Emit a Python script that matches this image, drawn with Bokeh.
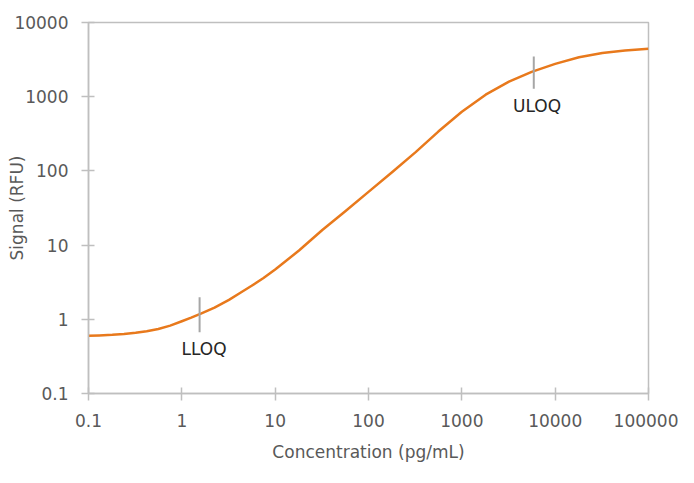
from bokeh.plotting import figure
from bokeh.models import ColumnDataSource, FixedTicker, CustomJSTickFormatter
from bokeh.core.properties import value
from bokeh.embed import file_html
from bokeh.resources import INLINE

# standard curve
conc = [0.1, 0.13, 0.18, 0.24, 0.32, 0.42, 0.56, 0.75, 1, 1.26, 1.6, 2.24, 3.2,
        4.2, 5.6, 7.5, 10, 18, 32, 56, 100, 180, 320, 560, 1000, 1800, 3200,
        5600, 10000, 18000, 32000, 56000, 100000]
signal = [0.600, 0.607, 0.618, 0.635, 0.658, 0.692, 0.740, 0.822, 0.940, 1.052,
          1.191, 1.439, 1.828, 2.259, 2.831, 3.606, 4.69, 8.45, 16.0, 28.4,
          52.2, 96.8, 179, 339, 627, 1064, 1596, 2163, 2767, 3404, 3882, 4207, 4416]

# limits of quantification
loq_names = ["LLOQ", "ULOQ"]
loq_conc = [1.55, 5900]
loq_low = [0.67, 1280]
loq_high = [1.99, 3480]
loq_label_conc = [1.73, 6400]
loq_label_signal = [0.40, 760]

x_ticks = [0.1, 1, 10, 100, 1000, 10000, 100000]
y_ticks = [0.1, 1, 10, 100, 1000, 10000]

FONT = "DejaVu Sans"
GREY = "#bfbfbf"
TXT = "#595959"

p = figure(width=678, height=467, x_axis_type="log", y_axis_type="log",
           x_range=(0.1, 100000), y_range=(0.1, 10000),
           output_backend="svg", toolbar_location=None,
           min_border_left=88, min_border_right=30,
           min_border_top=22, min_border_bottom=74)

p.xgrid.visible = False
p.ygrid.visible = False
p.outline_line_color = GREY
p.outline_line_width = 1.5
p.background_fill_color = "white"
p.border_fill_color = "white"

fmt = CustomJSTickFormatter(code="return tick.toString();")
for ax, ticks in ((p.xaxis[0], x_ticks), (p.yaxis[0], y_ticks)):
    ax.ticker = FixedTicker(ticks=ticks, minor_ticks=[])
    ax.formatter = fmt
    ax.axis_line_color = GREY
    ax.axis_line_width = 1.5
    ax.major_tick_line_color = GREY
    ax.major_tick_line_width = 1.5
    ax.major_tick_in = 6
    ax.major_tick_out = 7
    ax.minor_tick_line_color = None
    ax.major_label_text_font = FONT
    ax.major_label_text_font_size = "17px"
    ax.major_label_text_color = TXT
    ax.axis_label_text_font = FONT
    ax.axis_label_text_font_size = "17px"
    ax.axis_label_text_font_style = "normal"
    ax.axis_label_text_color = TXT

p.xaxis.axis_label = "Concentration (pg/mL)"
p.yaxis.axis_label = "Signal (RFU)"
p.xaxis.major_label_standoff = 13
p.xaxis.axis_label_standoff = 12
p.yaxis.major_label_standoff = 13
p.yaxis.axis_label_standoff = -16

src = ColumnDataSource(data=dict(x=conc, y=signal))
p.line("x", "y", source=src, line_color="#e8791c", line_width=2.5,
       line_join="round")

loq = ColumnDataSource(data=dict(x=loq_conc, y0=loq_low, y1=loq_high,
                                 lx=loq_label_conc, ly=loq_label_signal,
                                 name=loq_names))
p.segment(x0="x", y0="y0", x1="x", y1="y1", source=loq,
          line_color="#a6a6a6", line_width=2)
p.text(x="lx", y="ly", text="name", source=loq, text_align="center",
       text_baseline="middle", text_font=value(FONT),
       text_font_size="17px", text_color="#262626")

open("out.html", "w").write(file_html(p, INLINE))
